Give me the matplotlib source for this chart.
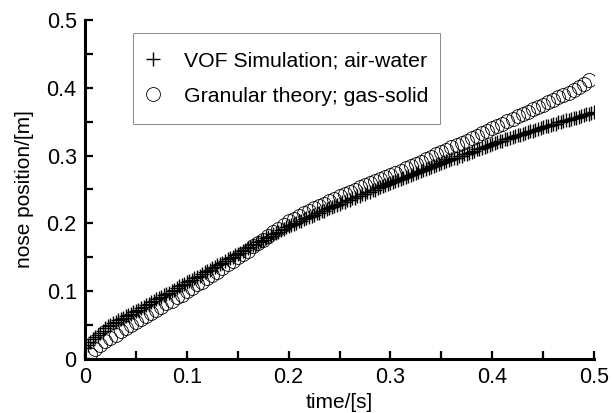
import numpy as np
import matplotlib
matplotlib.use("Agg")
import matplotlib.pyplot as plt
from matplotlib.patches import Rectangle
from matplotlib.ticker import MultipleLocator, FuncFormatter

plt.rcParams['font.family'] = ['Liberation Sans', 'DejaVu Sans']

# VOF simulation (air-water), sampled every 0.0025 s from 0 to 0.5 s
vof_t = np.linspace(0.0, 0.5, 201)
vof_y = [
    0.016, 0.021, 0.025, 0.029, 0.033,
    0.036, 0.039, 0.042, 0.045,
    0.048, 0.050, 0.053, 0.055,
    0.057, 0.059, 0.061, 0.063,
    0.065, 0.067, 0.069, 0.071,
    0.073, 0.075, 0.077, 0.079, 0.081, 0.084, 0.086, 0.088, 0.090, 0.092,
    0.094, 0.096, 0.098, 0.100, 0.102, 0.105, 0.107, 0.109, 0.111, 0.113,
    0.115, 0.117, 0.119, 0.121, 0.123, 0.126, 0.128, 0.130, 0.132, 0.134,
    0.136, 0.138, 0.140, 0.142, 0.144, 0.147, 0.149, 0.151, 0.153, 0.155,
    0.157, 0.159, 0.161, 0.163, 0.165, 0.168, 0.170, 0.172, 0.174, 0.176,
    0.178, 0.180, 0.182, 0.184, 0.186, 0.188, 0.190, 0.192, 0.194, 0.196,
    0.198, 0.199, 0.201, 0.203, 0.204, 0.206, 0.208, 0.210, 0.211, 0.213,
    0.215, 0.216, 0.218, 0.219, 0.221, 0.223, 0.224, 0.226, 0.227, 0.229,
    0.231, 0.232, 0.234, 0.235, 0.237, 0.238, 0.240, 0.241, 0.243, 0.244,
    0.246, 0.247, 0.249, 0.250, 0.252, 0.253, 0.255, 0.256, 0.258, 0.259,
    0.261, 0.262, 0.264, 0.265, 0.267, 0.268, 0.270, 0.271, 0.273, 0.274,
    0.276, 0.277, 0.279, 0.280, 0.282, 0.283, 0.285, 0.286, 0.288, 0.289,
    0.290, 0.292, 0.293, 0.295, 0.296, 0.297, 0.299, 0.300, 0.302, 0.303,
    0.304, 0.306, 0.307, 0.309, 0.310, 0.311, 0.313, 0.314, 0.316, 0.317,
    0.318, 0.320, 0.321, 0.322, 0.324, 0.325, 0.326, 0.327, 0.329, 0.330,
    0.331, 0.332, 0.334, 0.335, 0.336, 0.337, 0.338, 0.339, 0.341, 0.342,
    0.343, 0.344, 0.345, 0.346, 0.347, 0.349, 0.350, 0.351, 0.352, 0.353,
    0.354, 0.355, 0.356, 0.357, 0.358, 0.360, 0.361, 0.362, 0.363, 0.364,
]

# Granular theory (gas-solid), sampled every 0.005 s from 0.005 to 0.495 s
gran_t = np.linspace(0.005, 0.495, 99)
gran_y = [
    0.008, 0.015, 0.021, 0.026, 0.031, 0.036, 0.041, 0.045, 0.050, 0.054,
    0.059, 0.063, 0.068, 0.072, 0.077, 0.082, 0.086, 0.091, 0.095, 0.100,
    0.105, 0.110, 0.114, 0.119, 0.124, 0.129, 0.134, 0.140, 0.145, 0.150,
    0.155, 0.160, 0.166, 0.171, 0.176, 0.181, 0.187, 0.192, 0.198, 0.203,
    0.207, 0.211, 0.215, 0.218, 0.222, 0.226, 0.229, 0.233, 0.236, 0.240,
    0.243, 0.246, 0.250, 0.253, 0.256, 0.259, 0.262, 0.266, 0.269, 0.272,
    0.275, 0.278, 0.282, 0.285, 0.288, 0.291, 0.295, 0.298, 0.302, 0.305,
    0.308, 0.312, 0.315, 0.319, 0.322, 0.326, 0.329, 0.333, 0.336, 0.340,
    0.344, 0.347, 0.351, 0.354, 0.358, 0.361, 0.365, 0.368, 0.372, 0.375,
    0.379, 0.382, 0.386, 0.389, 0.393, 0.397, 0.401, 0.405, 0.411,
]

series_labels = ["VOF Simulation; air-water", "Granular theory; gas-solid"]
x_label = "time/[s]"
y_label = "nose position/[m]"

fig = plt.figure(figsize=(6.12, 4.13), dpi=100)
ax = fig.add_axes([85/612, 1-359/413, 509/612, 339/413])

ax.plot(vof_t, vof_y, linestyle='none', marker='+', markersize=10.5,
        markeredgewidth=1.0, color='black', label=series_labels[0])
ax.plot(gran_t, gran_y, linestyle='none', marker='o', markersize=10,
        markerfacecolor='none', markeredgewidth=0.6, markeredgecolor='black',
        label=series_labels[1])

ax.set_xlim(0, 0.5)
ax.set_ylim(0, 0.5)
for s in ['top', 'right']:
    ax.spines[s].set_visible(False)
for s in ['left', 'bottom']:
    ax.spines[s].set_linewidth(2.2)

ax.xaxis.set_major_locator(MultipleLocator(0.1))
ax.xaxis.set_minor_locator(MultipleLocator(0.05))
ax.yaxis.set_major_locator(MultipleLocator(0.1))
ax.yaxis.set_minor_locator(MultipleLocator(0.05))
fmt = FuncFormatter(lambda v, p: "%g" % round(v, 3))
ax.xaxis.set_major_formatter(fmt)
ax.yaxis.set_major_formatter(fmt)
ax.tick_params(which='both', direction='in', length=6, width=1.6)
ax.tick_params(axis='both', which='major', labelsize=15.5, pad=6)

ax.set_xlabel(x_label, fontsize=15, labelpad=3)
ax.set_ylabel(y_label, fontsize=15, labelpad=9)

# legend frame (drawn separately for exact padding)
ax.add_patch(Rectangle((0.094, 0.693), 0.603, 0.269, transform=ax.transAxes,
                       facecolor='white', edgecolor='#888888', linewidth=0.7,
                       zorder=4))
leg = ax.legend(loc='center left', bbox_to_anchor=(0.117, 0.827),
                fontsize=15.3, frameon=False,
                labelspacing=0.75, borderpad=0.0, handletextpad=1.06,
                handlelength=0.8, borderaxespad=0)
leg.set_zorder(5)

fig.savefig("out.png", dpi=100)
